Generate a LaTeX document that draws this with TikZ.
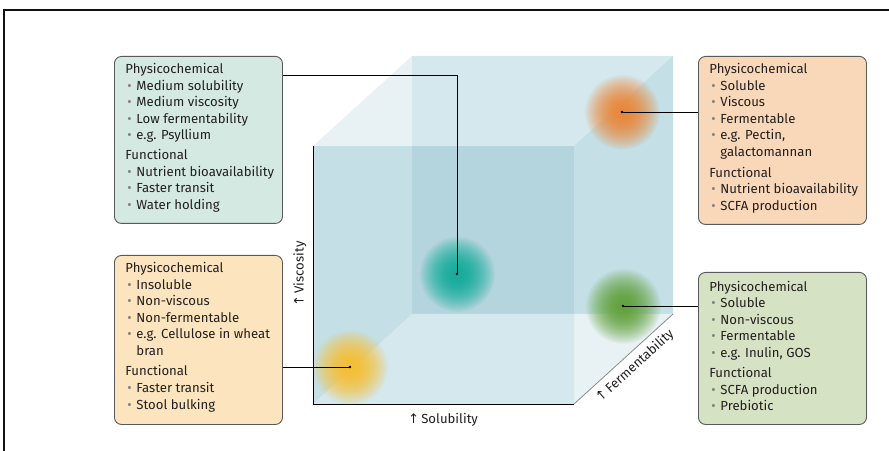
\documentclass[tikz,border=0pt]{standalone}
\usepackage{fontspec}
\setmainfont{Fira Sans}
\newfontfamily\arrowfont{DejaVu Sans}
\usetikzlibrary{fadings}

\definecolor{FrameBlack}{HTML}{111111}
\definecolor{TextGrey}{HTML}{231F20}
\definecolor{BulletGrey}{HTML}{808080}
\definecolor{BoxLine}{HTML}{5A5A5A}
\definecolor{EdgeGrey}{HTML}{8C8C8C}
\definecolor{BoxTeal}{HTML}{D4E9E2}
\definecolor{BoxPeach}{HTML}{F9D8BA}
\definecolor{BoxSand}{HTML}{FCE5BE}
\definecolor{BoxSage}{HTML}{D6E2C4}
\definecolor{CubeLight}{HTML}{E8F2F5}
\definecolor{CubeBack}{HTML}{D5E8ED}
\definecolor{CubeSide}{HTML}{C4E0E6}
\definecolor{CubeDeep}{HTML}{B4D5DD}
\definecolor{BlobTeal}{HTML}{17AC9C}
\definecolor{BlobOrange}{HTML}{E8883C}
\definecolor{BlobGreen}{HTML}{64A23F}
\definecolor{BlobYellow}{HTML}{F5BF36}

% soft round spot
\tikzfading[name=blobfade, inner color=transparent!0, outer color=transparent!100]

% grey bullet and the text of a box
\newcommand{\fb}{\makebox[11bp][l]{\hspace{2bp}\color{BulletGrey}\textbullet}}
\newcommand{\fbwrap}{\hspace*{11bp}}
\newcommand{\boxtext}[2]{\parbox[t][#1bp][t]{146bp}{\raggedright #2}}

\tikzset{
  fibrebox/.style={draw=BoxLine, line width=0.9bp, rounded corners=7bp, anchor=north west,
    inner xsep=11bp, inner ysep=7bp, text=TextGrey, font=\fontsize{13.2}{16.6}\selectfont},
  % filled twice so that the middle stays strong
  blob/.style={circle, minimum size=76bp, inner sep=0pt, fill=#1, path fading=blobfade,
    preaction={fill=#1, path fading=blobfade}},
  link/.style={draw=black, line width=0.8bp},
  axislabel/.style={text=TextGrey, inner sep=0pt, font=\fontsize{13.2}{15}\selectfont},
}

\begin{document}
\begin{tikzpicture}[x=1bp, y=-1bp]
  \useasboundingbox (0,0) rectangle (889,451);

  % frame
  \draw[FrameBlack, line width=2bp] (4,451) -- (4,10) -- (889,10);

  % cube corners, front and back face
  \coordinate (fsw) at (313,404);
  \coordinate (fnw) at (313,146);
  \coordinate (fne) at (574,146);
  \coordinate (fse) at (574,404);
  \coordinate (bsw) at (412,314);
  \coordinate (bnw) at (412,56);
  \coordinate (bne) at (673,56);
  \coordinate (bse) at (673,314);

  % cube faces
  \fill[CubeLight] (fnw) -- (bnw) -- (bne) -- (fne) -- cycle;
  \fill[CubeBack] (bnw) rectangle (bse);
  \fill[CubeSide] (fne) -- (bne) -- (bse) -- (fne |- bse) -- cycle;
  \fill[CubeLight] (fne |- bse) -- (bse) -- (fse) -- cycle;
  \fill[CubeSide] (fnw) rectangle (fse);
  \fill[CubeDeep] (bnw |- fnw) rectangle (fne |- bsw);
  \fill[CubeBack] (fsw) -- (bsw) -- (fne |- bsw) -- (fse) -- cycle;
  \draw[black, line width=0.9bp] (fnw) -- (fsw) -- (fse);
  \draw[EdgeGrey, line width=0.8bp] (fse) -- (bse);

  % fibre blobs
  \node[blob=BlobTeal] (teal) at (457,274) {};
  \node[blob=BlobOrange] (orange) at (622,112) {};
  \node[blob=BlobGreen] (green) at (623,306) {};
  \node[blob=BlobYellow] (yellow) at (350,367) {};

  % axis labels
  \node[axislabel, rotate=90] (viscosity) at (300,274) {{\arrowfont ↑}\,Viscosity};
  \node[axislabel] (solubility) at (443,420) {{\arrowfont ↑}\,Solubility};
  \node[axislabel, rotate=42] (fermentability) at (635,366) {{\arrowfont ↑}\,Fermentability};

  % boxes
  \node[fibrebox, fill=BoxTeal] (psyllium) at (114,56) {\boxtext{153}{%
    Physicochemical\\
    \fb Medium solubility\\
    \fb Medium viscosity\\
    \fb Low fermentability\\
    \fb e.g. Psyllium\\[3.5bp]
    Functional\\
    \fb \mbox{Nutrient bioavailability}\\
    \fb Faster transit\\
    \fb Water holding}};
  \node[fibrebox, fill=BoxPeach] (pectin) at (698,56) {\boxtext{154}{%
    Physicochemical\\
    \fb Soluble\\
    \fb Viscous\\
    \fb Fermentable\\
    \fb e.g. Pectin,\\
    \fbwrap galactomannan\\[4.4bp]
    Functional\\
    \fb \mbox{Nutrient bioavailability}\\
    \fb SCFA production}};
  \node[fibrebox, fill=BoxSand] (bran) at (114,255) {\boxtext{155}{%
    Physicochemical\\
    \fb Insoluble\\
    \fb Non-viscous\\
    \fb Non-fermentable\\
    \fb \mbox{e.g. Cellulose in wheat}\\
    \fbwrap bran\\[4bp]
    Functional\\
    \fb Faster transit\\
    \fb Stool bulking}};
  \node[fibrebox, fill=BoxSage] (inulin) at (698,272) {\boxtext{138}{%
    \vspace*{1.5bp}Physicochemical\\
    \fb Soluble\\
    \fb Non-viscous\\
    \fb Fermentable\\
    \fb e.g. Inulin, GOS\\[4bp]
    Functional\\
    \fb SCFA production\\
    \fb Prebiotic}};

  % links from blobs to boxes
  \draw[link] (teal.center) |- ([yshift=-19bp]psyllium.north east);
  \draw[link] (orange.center) -- (orange.center -| pectin.west);
  \draw[link] (green.center) -- (green.center -| inulin.west);
  \draw[link] (yellow.center) -- (yellow.center -| bran.east);
  \foreach \b in {teal,orange,green,yellow}
    \fill (\b.center) circle (1.4);
\end{tikzpicture}
\end{document}
